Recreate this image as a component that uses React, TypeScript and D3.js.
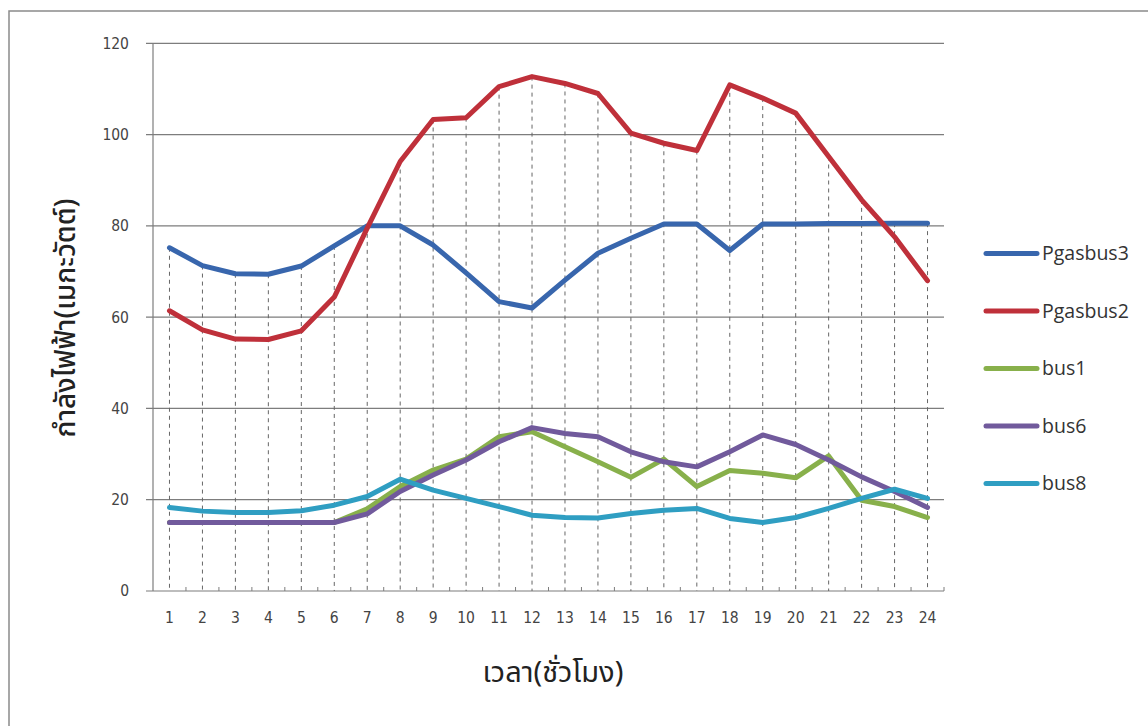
import React from "react";
import * as d3 from "d3";

// Hourly generation (MW) per source
const hours = [1, 2, 3, 4, 5, 6, 7, 8, 9, 10, 11, 12, 13, 14, 15, 16, 17, 18, 19, 20, 21, 22, 23, 24];
const pgasbus3 = [75.2, 71.3, 69.5, 69.4, 71.2, 75.6, 80, 80, 75.8, 69.7, 63.4, 62, 68.1, 74, 77.3, 80.4, 80.4, 74.6, 80.4, 80.4, 80.5, 80.5, 80.6, 80.6];
const pgasbus2 = [61.4, 57.2, 55.2, 55.1, 57, 64.4, 79.5, 94.1, 103.3, 103.7, 110.5, 112.7, 111.2, 109, 100.3, 98.1, 96.5, 110.9, 108, 104.7, 95.2, 85.7, 77.6, 68];
const bus1 = [15, 15, 15, 15, 15, 15, 18, 22.9, 26.5, 28.9, 33.8, 34.9, 31.6, 28.3, 24.9, 28.9, 22.9, 26.4, 25.8, 24.8, 29.6, 19.9, 18.5, 16.1];
const bus6 = [15, 15, 15, 15, 15, 15, 16.9, 21.8, 25.4, 28.7, 32.7, 35.8, 34.5, 33.8, 30.5, 28.3, 27.2, 30.5, 34.2, 32.1, 28.7, 25, 21.8, 18.3];
const bus8 = [18.3, 17.5, 17.2, 17.2, 17.6, 18.8, 20.7, 24.5, 22.1, 20.3, 18.5, 16.6, 16.1, 16, 17, 17.7, 18.1, 15.9, 15, 16.1, 18.1, 20.3, 22.3, 20.3];
const yTicks = [0, 20, 40, 60, 80, 100, 120];

const seriesNames = ["Pgasbus3", "Pgasbus2", "bus1", "bus6", "bus8"];
const seriesValues = [pgasbus3, pgasbus2, bus1, bus6, bus8];
const seriesColors = ["#3866ad", "#bf303a", "#88b04b", "#715a9c", "#2f9ec2"];

const W = 1148;
const H = 726;
const left = 153;
const right = 944;
const top = 43.3;
const bottom = 591;

export default function App() {
  const x = d3.scaleBand<number>().domain(hours).range([left, right]);
  const y = d3.scaleLinear().domain([0, 120]).range([bottom, top]);
  const cx = (h: number) => (x(h) as number) + x.bandwidth() / 2;

  const line = d3
    .line<number>()
    .x((_, i) => cx(hours[i]))
    .y((v) => y(v));

  const maxes = hours.map((_, i) => d3.max(seriesValues, (s) => s[i]) as number);
  const tickFont = "'Liberation Sans Narrow', 'DejaVu Sans Condensed', 'Liberation Sans', sans-serif";
  const legendFont = "'Open Sans', 'Noto Sans', sans-serif";
  const thaiFont = "'Noto Sans Thai', 'Noto Sans', 'DejaVu Sans', sans-serif";

  return (
    <svg width={W} height={H} style={{ position: "absolute", left: 0, top: 0, background: "#fff" }}>
      <rect x={9} y={11} width={W + 20} height={H + 20} fill="#fff" stroke="#8a8a8a" strokeWidth={1.5} />

      {/* horizontal gridlines */}
      {yTicks.map((t) => (
        <line key={t} x1={146} x2={right} y1={y(t)} y2={y(t)} stroke="#7d7d7d" strokeWidth={1.2} />
      ))}
      {/* value axis */}
      <line x1={left} x2={left} y1={top} y2={bottom} stroke="#7d7d7d" strokeWidth={1.2} />
      {/* category tick marks */}
      {hours.map((h) => (
        <line key={"t" + h} x1={(x(h) as number) + x.bandwidth()} x2={(x(h) as number) + x.bandwidth()} y1={bottom} y2={bottom - 4} stroke="#7d7d7d" strokeWidth={1} />
      ))}
      {/* drop lines */}
      {hours.map((h, i) => (
        <line key={"d" + h} x1={cx(h)} x2={cx(h)} y1={y(maxes[i])} y2={bottom} stroke="#666" strokeWidth={1} strokeDasharray="4,4" />
      ))}

      {/* y tick labels */}
      {yTicks.map((t) => (
        <text key={"yl" + t} x={129} y={y(t)} dy="0.35em" textAnchor="end" fontSize={15.5} fill="#444" fontFamily={tickFont}>
          {t}
        </text>
      ))}
      {/* x tick labels */}
      {hours.map((h) => (
        <text key={"xl" + h} x={cx(h)} y={623} textAnchor="middle" fontSize={15.5} fill="#444" fontFamily={tickFont}>
          {h}
        </text>
      ))}

      {/* series lines */}
      {seriesValues.map((s, k) => (
        <path key={seriesNames[k]} d={line(s) ?? ""} fill="none" stroke={seriesColors[k]} strokeWidth={5} strokeLinejoin="round" strokeLinecap="round" />
      ))}

      {/* legend */}
      {seriesNames.map((n, k) => {
        const ly = 253.5 + k * 57.5;
        return (
          <g key={"lg" + n}>
            <line x1={986} x2={1037} y1={ly} y2={ly} stroke={seriesColors[k]} strokeWidth={5} strokeLinecap="round" />
            <text x={1042} y={ly} dy="0.35em" fontSize={19.5} fill="#333" fontFamily={legendFont}>
              {n}
            </text>
          </g>
        );
      })}

      {/* axis titles */}
      <text transform="translate(75,318) rotate(-90)" textAnchor="middle" fontSize={28} fontWeight={500} fill="#222" fontFamily={thaiFont}>
        กำลังไฟฟ้า(เมกะวัตต์)
      </text>
      <text x={553} y={682} textAnchor="middle" fontSize={29} fill="#222" fontFamily={thaiFont}>
        เวลา(ชั่วโมง)
      </text>
    </svg>
  );
}
